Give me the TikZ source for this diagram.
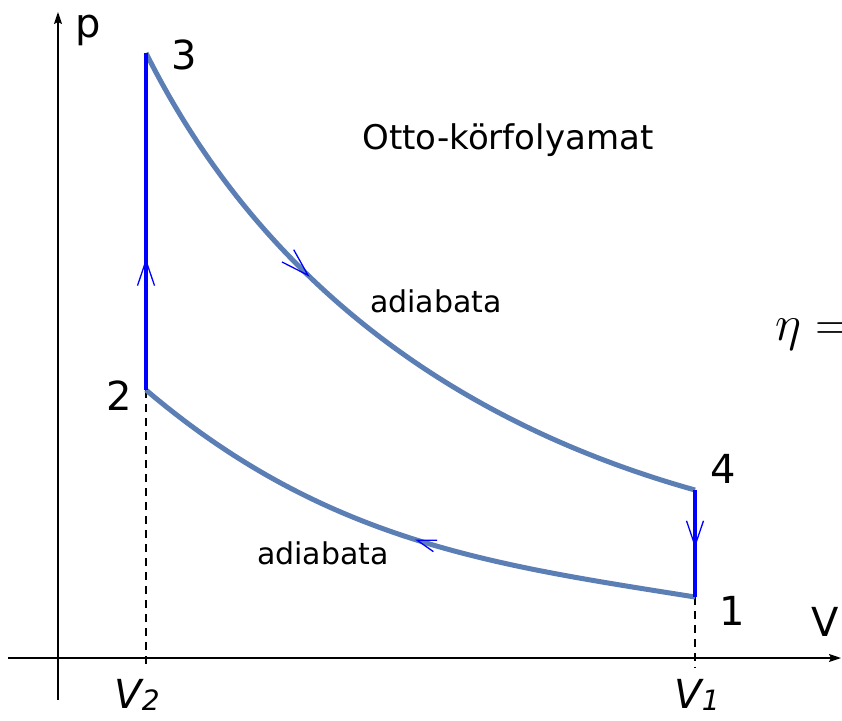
\documentclass[tikz,border=0pt]{standalone}
\usepackage{fix-cm}
\usepackage{amsmath}
\usepackage[no-math]{fontspec}
\setmainfont{DejaVu Sans}
\usetikzlibrary{arrows.meta,decorations.markings}
\definecolor{adiablue}{RGB}{91,126,181}
\newcommand{\vol}[1]{{\itshape V\raisebox{-2pt}{\fontsize{28}{28}\selectfont #1}}}

\begin{document}
\begin{tikzpicture}[x=1pt, y=-1pt, >={Stealth[length=12pt,width=8pt,inset=2pt]},
  adiabat/.style={line width=5pt, adiablue},
  isochor/.style={line width=3.5pt, blue},
  guide/.style={line width=1.4pt, dash pattern=on 8pt off 6pt},
  lbl/.style={font=\fontsize{40}{40}\selectfont},
  note/.style={font=\fontsize{30}{30}\selectfont},
  flow/.style 2 args={postaction={decorate, decoration={markings,
      mark=at position #1 with {\arrow[blue]{Straight Barb[#2, line width=1.3pt]}}}}}]
\useasboundingbox (0,0) rectangle (842,720);

% axes
\coordinate (xs) at (8,658);
\coordinate (xe) at (841,658);
\coordinate (ys) at (58,700);
\coordinate (ye) at (58,12);
\draw[->, line width=1.4pt] (xs) -- (xe);
\draw[->, line width=1.4pt] (ys) -- (ye);

% corners of the cycle
\coordinate (p1) at (695,597);
\coordinate (p2) at (146,390);
\coordinate (p3) at (146,53);
\coordinate (p4) at (695,490);
\coordinate (v1) at (695,668);
\coordinate (v2) at (146,668);

\draw[guide] (p2) -- (v2);
\draw[guide] (p1) -- (v1);

% adiabats
\draw[adiabat, flow={0.385}{length=28pt,width=17pt}]
  (p3) .. controls (256,273) and (445,420) .. (p4);
\draw[adiabat, flow={0.48}{length=19pt,width=12pt}]
  (p1) .. controls (495,565) and (326,543) .. (p2);

% isochors
\draw[isochor, flow={0.39}{length=25pt,width=17pt}] (p2) -- (p3);
\draw[isochor, flow={0.54}{length=25pt,width=17pt}] (p4) -- (p1);

% ---- labels ----
\node[lbl] (n1) at (732,611) {1};
\node[lbl] (n2) at (119,396) {2};
\node[lbl] (n3) at (184,55) {3};
\node[lbl] (n4) at (723,469) {4};
\node[lbl] (np) at (88,30) {p};
\node[lbl] (nV) at (825,622) {V};
\node[lbl] (nv1) at (697,695) {\vol{1}};
\node[lbl] (nv2) at (137,695) {\vol{2}};

\node[note, font=\fontsize{34}{34}\selectfont] (title) at (508,140) {Otto-körfolyamat};
\node[note] (ad1) at (436,301) {adiabata};
\node[note] (ad2) at (323,553) {adiabata};
\node[anchor=base west, inner sep=0pt, font=\fontsize{50}{50}\selectfont] (eta) at (775,340) {$\eta =$};

\end{tikzpicture}
\end{document}
